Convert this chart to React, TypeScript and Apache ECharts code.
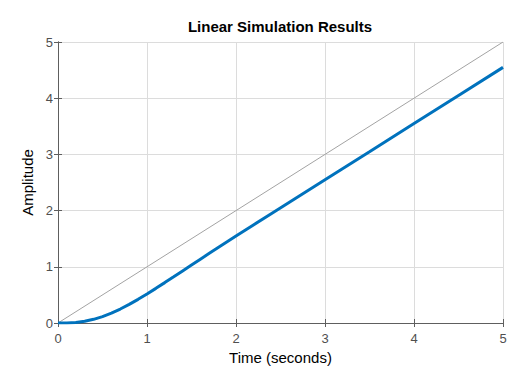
import React, { useEffect, useRef } from "react";
import * as echarts from "echarts";

const timeSec = [0, 0.1, 0.2, 0.3, 0.4, 0.5, 0.6, 0.7, 0.8, 0.9, 1.0, 1.1, 1.2, 1.3, 1.4, 1.5, 1.6, 1.7, 1.8, 1.9, 2.0, 2.2, 2.4, 2.6, 3.0, 3.5, 4.0, 4.5, 5.0];
const response = [0, 0.0015, 0.0104, 0.031, 0.0654, 0.1141, 0.1756, 0.2485, 0.331, 0.421, 0.517, 0.6163, 0.7185, 0.8223, 0.9268, 1.0313, 1.1356, 1.2394, 1.3425, 1.445, 1.5469, 1.7491, 1.9498, 2.1498, 2.549, 3.0484, 3.5484, 4.0484, 4.5484];
const inputTime = [0, 5];
const inputValue = [0, 5];
const tickLabels = ["0", "1", "2", "3", "4", "5"];

const App: React.FC = () => {
  const ref = useRef<HTMLDivElement>(null);
  useEffect(() => {
    if (!ref.current) return;
    const chart = echarts.init(ref.current, undefined, { renderer: "svg" });
    const axisColor = "#5e5e5e";
    const labelColor = "#4f4f4f";
    const font = "Arial, 'Liberation Sans', Helvetica, sans-serif";
    const common = {
      type: "value" as const,
      min: 0,
      max: 5,
      interval: 1,
      axisLine: { show: true, lineStyle: { color: axisColor, width: 1 } },
      axisTick: { show: true, inside: true, length: 4, lineStyle: { color: axisColor } },
    };
    chart.setOption({
      animation: false,
      backgroundColor: "#ffffff",
      title: {
        text: "Linear Simulation Results",
        left: 275,
        top: 14,
        textAlign: "center",
        textStyle: { fontFamily: font, fontSize: 15, fontWeight: "bold", color: "#000" },
      },
      grid: { left: 58, right: 27, top: 42, bottom: 50, show: false },
      xAxis: [
        {
          ...common,
          position: "bottom",
          name: "Time (seconds)",
          nameLocation: "middle",
          nameGap: 27,
          nameTextStyle: { fontFamily: font, fontSize: 15, color: "#000" },
          axisLabel: {
            margin: 9,
            fontFamily: font,
            fontSize: 13,
            color: labelColor,
            formatter: (v: number) => tickLabels[Math.round(v)] ?? "",
          },
          splitLine: { show: true, lineStyle: { color: "#dcdcdc", width: 1 } },
        },
        {
          ...common,
          position: "top",
          axisLabel: { show: false },
          splitLine: { show: false },
        },
      ],
      yAxis: [
        {
          ...common,
          position: "left",
          name: "Amplitude",
          nameLocation: "middle",
          nameGap: 22,
          nameTextStyle: { fontFamily: font, fontSize: 15, color: "#000" },
          axisLabel: {
            margin: 5,
            fontFamily: font,
            fontSize: 13,
            color: labelColor,
            formatter: (v: number) => tickLabels[Math.round(v)] ?? "",
          },
          splitLine: { show: true, lineStyle: { color: "#dcdcdc", width: 1 } },
        },
        {
          ...common,
          position: "right",
          axisLabel: { show: false },
          splitLine: { show: false },
        },
      ],
      series: [
        {
          type: "line",
          xAxisIndex: 0,
          yAxisIndex: 0,
          data: inputTime.map((t, i) => [t, inputValue[i]]),
          showSymbol: false,
          lineStyle: { color: "#a3a3a3", width: 1 },
          z: 2,
        },
        {
          type: "line",
          xAxisIndex: 0,
          yAxisIndex: 0,
          data: timeSec.map((t, i) => [t, response[i]]),
          showSymbol: false,
          smooth: false,
          lineStyle: { color: "#0072BD", width: 3 },
          z: 3,
        },
      ],
    });
    return () => chart.dispose();
  }, []);
  return (
    <div
      ref={ref}
      style={{ position: "fixed", left: 0, top: 0, width: 530, height: 373, background: "#fff" }}
    />
  );
};

export default App;
